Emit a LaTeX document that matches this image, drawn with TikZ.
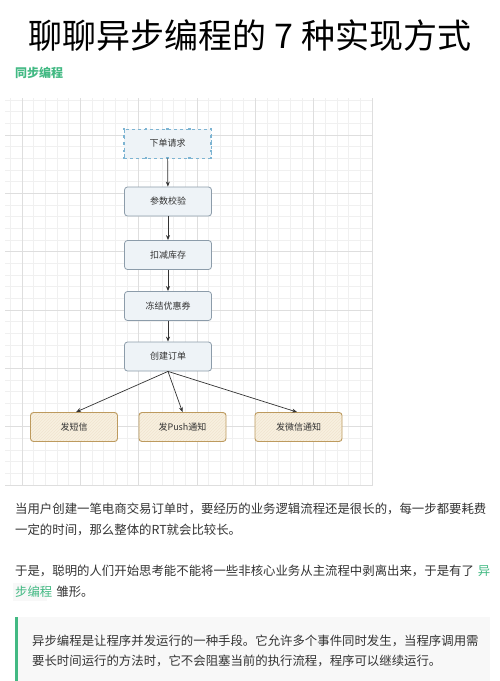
\documentclass[tikz,border=0pt]{standalone}
\usepackage{fontspec}
\setmainfont{Noto Sans CJK SC}
\usetikzlibrary{patterns,arrows.meta,calc}
\definecolor{gridminor}{HTML}{F0F0F0}
\definecolor{gridmajor}{HTML}{DEDEDE}
\definecolor{bluefill}{HTML}{EEF3F7}
\definecolor{blueline}{HTML}{8C9CAA}
\definecolor{selline}{HTML}{7DB4D2}
\definecolor{creamfill}{HTML}{F8F0E0}
\definecolor{creamline}{HTML}{BD9A5E}
\definecolor{hatch}{HTML}{F0E4CF}
\definecolor{txt}{HTML}{333333}
\definecolor{vgreen}{HTML}{42B983}
\definecolor{quotebg}{HTML}{F8F8F8}
\tikzset{
  bluebox/.style={draw=blueline, line width=0.8pt, fill=bluefill, rounded corners=3pt,
    minimum width=87pt, minimum height=29pt, inner sep=0pt, font=\fontsize{9}{9}\selectfont, text=txt},
  selbox/.style={draw=selline, dashed, line width=0.8pt, fill=bluefill,
    minimum width=87pt, minimum height=29pt, inner sep=0pt, font=\fontsize{9}{9}\selectfont, text=txt},
  creambox/.style={draw=creamline, line width=0.9pt, rounded corners=3pt,
    preaction={fill=creamfill}, pattern=north east lines, pattern color=hatch,
    minimum width=87pt, minimum height=29pt, inner sep=0pt, font=\fontsize{9}{9}\selectfont, text=txt},
  flow/.style={draw=txt, line width=0.7pt, -{Stealth[length=5pt,width=4pt]}},
  bodytext/.style={anchor=west, inner sep=0pt, font=\fontsize{12.4}{12.4}\selectfont, text=txt},
  handle/.style={fill=selline, draw=none, minimum size=2.5pt, inner sep=0pt}
}
\begin{document}
\begin{tikzpicture}[x=1pt,y=-1pt]
\useasboundingbox (0,0) rectangle (500,681);
\fill[white] (0,0) rectangle (500,681);
% grid
\foreach \i in {0,...,31}{
  \pgfmathsetmacro{\gx}{10.34+11.66*\i}
  \draw[gridminor, line width=0.4pt] (\gx,98) -- (\gx,486);
}
\foreach \i in {0,...,33}{
  \pgfmathsetmacro{\gy}{100.0+11.66*\i}
  \draw[gridminor, line width=0.4pt] (5,\gy) -- (372,\gy);
}
\foreach \i in {1,6,...,31}{
  \pgfmathsetmacro{\gx}{10.34+11.66*\i}
  \draw[gridmajor, line width=0.5pt] (\gx,98) -- (\gx,486);
}
\foreach \i in {3,8,...,33}{
  \pgfmathsetmacro{\gy}{100.0+11.66*\i}
  \draw[gridmajor, line width=0.5pt] (5,\gy) -- (372,\gy);
}
% title
\node[inner sep=0pt, font=\fontsize{34}{34}\selectfont, text=black] (title) at (250,36) {聊聊异步编程的 7 种实现方式};
\node[anchor=west, inner sep=0pt, font=\fontsize{12}{12}\bfseries, text=vgreen] (sub) at (15,73) {同步编程};
% flow
\node[selbox] (req) at (167.5,143.5) {下单请求};
\foreach \hx in {-43.5,-21.75,0,21.75,43.5}{
  \node[handle] at ($(req.center)+(\hx,-14.5)$) {};
  \node[handle] at ($(req.center)+(\hx,14.5)$) {};
}
\foreach \hy in {-7.25,0,7.25}{
  \node[handle] at ($(req.center)+(-43.5,\hy)$) {};
  \node[handle] at ($(req.center)+(43.5,\hy)$) {};
}
\node[bluebox] (chk) at (168,201.5) {参数校验};
\node[bluebox] (stk) at (168,255) {扣减库存};
\node[bluebox] (cpn) at (168,306) {冻结优惠券};
\node[bluebox] (ord) at (168,356.5) {创建订单};
\node[creambox] (sms) at (74,427) {发短信};
\node[creambox] (push) at (182.5,427) {发Push通知};
\node[creambox] (wx) at (298.5,427) {发微信通知};
\draw[flow] (req) -- (chk);
\draw[flow] (chk) -- (stk);
\draw[flow] (stk) -- (cpn);
\draw[flow] (cpn) -- (ord);
\draw[flow] (ord.south) -- ([xshift=2pt]sms.north);
\draw[flow] (ord.south) -- (push.north);
\draw[flow] (ord.south) -- ([xshift=-1.5pt]wx.north);
% paragraphs
\node[bodytext] (p1a) at (15,509) {当用户创建一笔电商交易订单时，要经历的业务逻辑流程还是很长的，每一步都要耗费};
\node[bodytext] (p1b) at (15,530) {一定的时间，那么整体的RT就会比较长。};
\node[bodytext] (p2a) at (15,571) {于是，聪明的人们开始思考能不能将一些非核心业务从主流程中剥离出来，于是有了\hspace{4pt}{\color{vgreen}异}};
\fill[quotebg] (13,583) rectangle (47,601);
\node[bodytext] (p2b) at (15,592) {{\color{vgreen}步编程}\hspace{4pt}雏形。};
% quote
\fill[quotebg] (15,617) rectangle (490,681);
\fill[vgreen] (15,617) rectangle (18,681);
\node[bodytext] (q1) at (32,641) {异步编程是让程序并发运行的一种手段。它允许多个事件同时发生，当程序调用需};
\node[bodytext] (q2) at (32,661) {要长时间运行的方法时，它不会阻塞当前的执行流程，程序可以继续运行。};
\end{tikzpicture}
\end{document}
